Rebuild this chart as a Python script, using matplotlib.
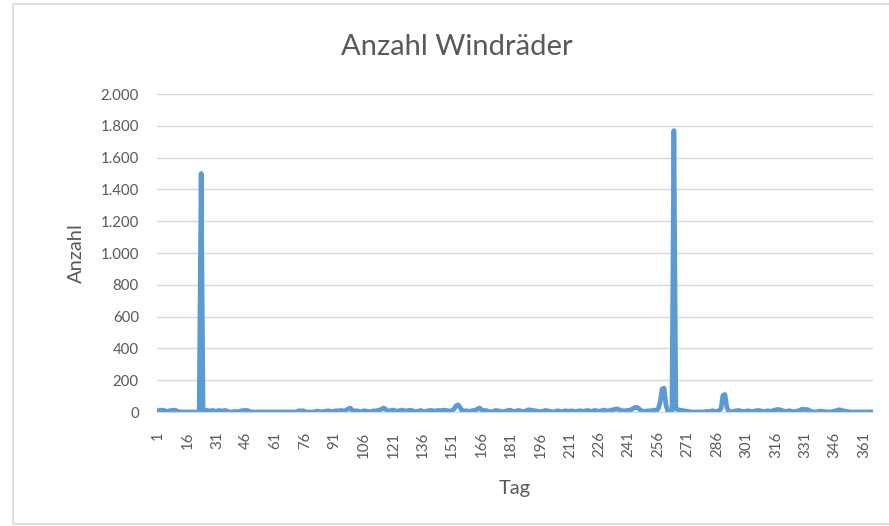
import matplotlib.pyplot as plt
from matplotlib.ticker import FuncFormatter
import matplotlib.patches as pat

# Tageswerte (Tag 1..365)
werte = [
    8, 10, 12, 10, 6, 4, 8, 10, 12, 10, 4, 2, 0, 0, 0, 0, 0, 0, 0, 0,
    0, 0, 1500, 0, 8, 10, 6, 8, 10, 4, 6, 10, 8, 4, 10, 8, 2, 0, 0, 4,
    2, 0, 6, 8, 10, 10, 8, 2, 0, 0, 0, 0, 0, 0, 0, 0, 0, 0, 0, 0,
    0, 0, 0, 0, 0, 0, 0, 0, 0, 0, 0, 4, 8, 6, 8, 2, 0, 0, 0, 0,
    2, 6, 4, 0, 2, 4, 6, 8, 4, 2, 6, 8, 6, 10, 8, 6, 12, 20, 25, 12,
    4, 8, 6, 2, 0, 8, 6, 4, 0, 4, 8, 6, 10, 12, 18, 25, 18, 8, 6, 10,
    12, 8, 4, 8, 12, 10, 6, 8, 10, 12, 6, 0, 4, 6, 10, 4, 2, 6, 8, 10,
    8, 6, 8, 10, 8, 10, 12, 10, 8, 6, 10, 20, 40, 45, 30, 8, 6, 8, 6, 4,
    8, 10, 12, 20, 25, 12, 8, 10, 6, 0, 2, 4, 10, 8, 6, 4, 0, 4, 8, 12,
    10, 4, 2, 8, 10, 6, 2, 4, 10, 14, 12, 10, 8, 6, 4, 2, 4, 8, 10, 6,
    4, 0, 2, 6, 8, 4, 2, 6, 8, 4, 6, 8, 4, 2, 6, 8, 6, 4, 8, 10,
    6, 4, 8, 10, 6, 4, 8, 12, 10, 6, 8, 12, 14, 18, 20, 15, 10, 8, 6, 10,
    10, 14, 20, 28, 30, 22, 12, 6, 4, 6, 8, 6, 10, 12, 8, 20, 60, 145, 150, 40,
    0, 0, 5, 1770, 20, 15, 12, 10, 8, 6, 4, 2, 0, 0, 0, 0, 0, 0, 0, 2,
    4, 0, 6, 8, 2, 0, 10, 20, 105, 110, 30, 4, 0, 2, 6, 8, 10, 6, 4, 2,
    6, 8, 4, 2, 6, 8, 10, 8, 4, 2, 6, 8, 4, 6, 10, 14, 16, 14, 10, 6,
    4, 6, 8, 4, 2, 4, 6, 10, 16, 18, 14, 16, 10, 4, 2, 0, 2, 4, 6, 4,
    2, 0, 0, 0, 4, 6, 10, 14, 12, 8, 6, 4, 2, 0, 0, 0, 0, 0, 0, 0,
    0, 0, 0, 2, 0,
]
tage = list(range(1, len(werte) + 1))
xticks = list(range(1, 366, 15))
yticks = list(range(0, 2001, 200))

GRAU = '#595959'
plt.rcParams['font.family'] = ['Lato', 'DejaVu Sans']

fig = plt.figure(figsize=(8.89, 5.26), dpi=100)
# Rahmen des Diagrammbereichs
fig.patches.append(pat.Rectangle((13 / 889, 2 / 526), 1.2, 520 / 526, transform=fig.transFigure,
                                 fill=False, edgecolor='#D9D9D9', linewidth=1.2))

ax = fig.add_axes([157 / 889, 1 - 412 / 526, 716 / 889, 318 / 526])
ax.plot(tage, werte, color='#5B9BD5', linewidth=3.4, solid_joinstyle='round')
ax.set_xlim(0.5, 365.5)
ax.set_ylim(0, 2000)
ax.set_xticks(xticks)
ax.set_xticklabels([str(t) for t in xticks], rotation=90)
ax.set_yticks(yticks)
ax.yaxis.set_major_formatter(FuncFormatter(lambda v, p: f'{int(v):,}'.replace(',', '.')))
ax.grid(axis='y', color='#D9D9D9', linewidth=1)
ax.set_axisbelow(True)
for s in ['top', 'right', 'left']:
    ax.spines[s].set_visible(False)
ax.spines['bottom'].set_color('#D9D9D9')
ax.tick_params(length=0, colors=GRAU, labelsize=10.8)
ax.tick_params(axis='y', pad=13)
ax.tick_params(axis='x', pad=14)

# Titel ueber dem gesamten Diagrammbereich zentriert
fig.text(457 / 889, 1 - 47 / 526, 'Anzahl Windräder', fontsize=21, color=GRAU,
         ha='center', va='center')
ax.set_xlabel('Tag', fontsize=14.5, color=GRAU, labelpad=16)
ax.set_ylabel('Anzahl', fontsize=14.5, color=GRAU, labelpad=11)

fig.savefig('out.png', dpi=100)
